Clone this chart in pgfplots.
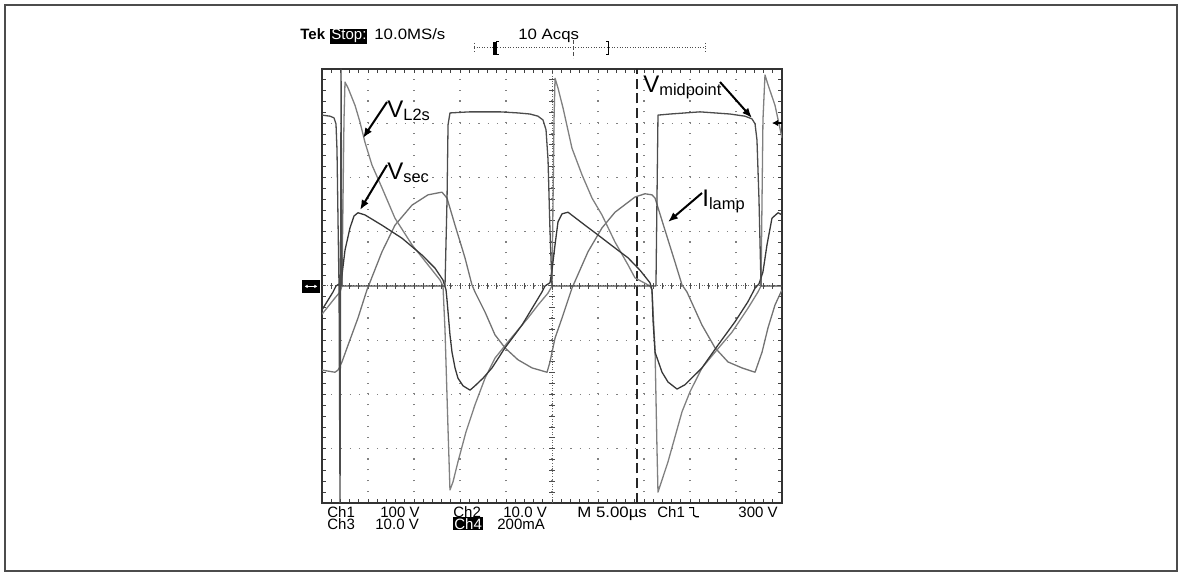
\documentclass[border=0pt]{standalone}
\usepackage{fontspec}
\setmainfont{Liberation Sans}
\newfontfamily\widefam[FakeStretch=1.12]{Liberation Sans}
\usepackage{pgfplots}
\pgfplotsset{compat=1.18}
\usetikzlibrary{arrows.meta}

\newcommand\scopefont{\fontsize{7.5}{9}\selectfont}
\newcommand\scopewide{\widefam\fontsize{7.5}{9}\selectfont}
\newcommand\lbl[2]{\fontsize{12}{14}\selectfont #1\raisebox{-1.5pt}{\fontsize{8.2}{10}\selectfont #2}}

\begin{document}
\begin{tikzpicture}
\useasboundingbox (0,0) rectangle (591pt,-288pt);
\draw[black!70, line width=0.75pt] (2.5pt,-2.5pt) rectangle (588.5pt,-285.5pt);

\begin{axis}[
  at={(161pt,-34.5pt)}, anchor=north west,
  scale only axis, width=230pt, height=217pt,
  xmin=0, xmax=50, ymin=-4, ymax=4,
  xtick={0,5,...,50}, ytick={-4,-3,...,4},
  minor x tick num=4, minor y tick num=4,
  xticklabels={}, yticklabels={},
  tick align=inside, major tick length=2.2pt, minor tick length=2pt,
  every tick/.style={black!75, line width=0.5pt},
  grid=major,
  x grid style={black!50, line width=0.55pt, dash pattern=on 0.55pt off 4.875pt},
  y grid style={black!50, line width=0.55pt, dash pattern=on 0.55pt off 4.05pt},
  axis line style={black!80, line width=0.8pt},
  every axis plot/.append style={line width=0.65pt, line join=round},
]
% centre axes with division ticks
\draw[black!60, line width=0.5pt, dash pattern=on 0.5pt off 0.8pt] (axis cs:25,-4) -- (axis cs:25,4);
\draw[black!60, line width=0.5pt, dash pattern=on 0.5pt off 0.8pt] (axis cs:0,0) -- (axis cs:50,0);
\pgfplotsinvokeforeach{1,...,49}{\draw[black!70, line width=0.5pt] (axis cs:#1,-0.05) -- (axis cs:#1,0.05);}
\pgfplotsinvokeforeach{-3.8,-3.6,...,3.8}{\draw[black!70, line width=0.5pt] (axis cs:24.7,#1) -- (axis cs:25.3,#1);}

% cursor
\draw[black!85, line width=0.55pt, dash pattern=on 5pt off 2.4pt] (axis cs:34.24,-4) -- (axis cs:34.24,4);

% Ch4: I_lamp
\addplot[color=black!55] coordinates {
  (0,-1.55) (1.41,-1.59) (1.74,-1.55) (2.17,-1.40) (2.83,-1.09) (3.91,-0.59)
  (4.89,-0.07) (6.52,0.63) (7.93,1.12) (9.78,1.49) (11.52,1.68) (13.04,1.73)
  (13.59,1.62) (14.46,1.12) (15.54,0.52) (16.30,0.02) (16.63,-0.11) (17.72,-0.48)
  (18.80,-0.90) (19.89,-1.14) (21.30,-1.36) (22.83,-1.51) (24.46,-1.59) (24.78,-1.40)
  (25.33,-0.96) (26.09,-0.59) (27.17,-0.04) (28.91,0.63) (30.43,1.07) (31.85,1.36)
  (34.02,1.64) (35.11,1.70) (35.87,1.68) (36.20,1.62) (37.28,1.03) (38.37,0.44)
  (39.13,0.02) (39.67,-0.11) (41.30,-0.72) (42.72,-1.14) (44.13,-1.40) (45.65,-1.51)
  (47.07,-1.59) (47.83,-1.22) (48.48,-0.77) (49.24,-0.35) (50,-0.07)
};

% V_L2s
\addplot[color=black!50] coordinates {
  (0,-0.52) (1.41,-0.22) (1.96,-0.11) (2.17,0) (2.39,3.06) (2.50,3.76) (2.83,3.65)
  (3.59,3.33) (4.13,3.02) (4.67,2.65) (5.43,2.23) (6.52,1.81) (7.93,1.25) (9.78,0.76)
  (11.52,0.39) (12.83,0.11) (13.15,0) (13.37,-0.81) (13.70,-2.65) (13.91,-3.76)
  (14.24,-3.61) (14.78,-3.24) (15.65,-2.69) (16.63,-2.19) (17.72,-1.70) (18.80,-1.33)
  (20.22,-1.03) (21.30,-0.81) (22.39,-0.59) (23.48,-0.35) (24.57,-0.13) (25.0,0)
  (25.22,3.06) (25.33,3.83) (25.65,3.65) (26.20,3.28) (27.17,2.54) (28.26,2.05)
  (29.35,1.62) (30.43,1.31) (31.85,0.81) (33.26,0.39) (34.02,0.15) (35.65,0)
  (35.87,-0.07) (36.20,-1.18) (36.41,-2.99) (36.52,-3.80) (37.61,-3.24) (39.13,-2.32)
  (40.0,-1.95) (41.30,-1.51) (42.72,-1.22) (44.57,-0.85) (46.30,-0.41) (47.39,-0.11)
  (47.72,0) (47.93,3.06) (48.15,3.89) (48.48,3.71) (49.24,3.33) (50,2.73)
};

% V_sec
\addplot[color=black!78] coordinates {
  (0,-0.44) (1.20,-0.11) (1.52,0) (2.07,0.06) (2.50,0.66) (3.04,1.07) (3.48,1.29)
  (3.91,1.35) (4.67,1.31) (6.52,1.12) (8.70,0.88) (10.87,0.57) (12.28,0.33)
  (13.15,0.11) (13.48,-0.07) (13.59,-0.26) (13.91,-0.90) (14.13,-1.22) (14.46,-1.51)
  (14.78,-1.70) (15.33,-1.84) (16.09,-1.92) (16.63,-1.84) (17.50,-1.70) (18.48,-1.51)
  (19.89,-1.14) (21.74,-0.72) (23.91,-0.11) (24.24,0) (24.78,0.06) (25.0,0.29)
  (25.33,0.76) (25.65,1.18) (26.09,1.33) (26.74,1.36) (28.59,1.12) (30.0,0.94)
  (31.85,0.70) (33.26,0.52) (34.57,0.29) (35.65,0.06) (35.87,-0.07) (35.98,-0.63)
  (36.20,-1.22) (36.96,-1.59) (37.61,-1.77) (38.59,-1.90) (39.46,-1.82) (41.30,-1.51)
  (43.04,-1.09) (44.89,-0.66) (46.30,-0.29) (47.07,-0.04) (47.50,0.04) (47.93,0.26)
  (48.37,0.76) (48.91,1.25) (49.57,1.35) (50,1.31)
};

% Ch1: V_midpoint
\addplot[color=black!70] coordinates {
  (0,3.15) (0.87,3.13) (1.30,3.10) (1.52,2.99) (1.63,2.51) (1.74,1.22) (1.85,0)
  (1.96,-4) (2.07,4) (2.17,0) (13.37,0) (13.59,1.59) (13.70,2.97) (13.91,3.19)
  (16.09,3.21) (19.35,3.21) (21.30,3.19) (22.61,3.17) (23.48,3.13) (24.02,3.06)
  (24.35,2.88) (24.57,2.32) (24.78,1.03) (25.0,0) (36.30,0) (36.41,1.59) (36.52,3.15)
  (37.83,3.17) (41.09,3.21) (44.35,3.17) (45.98,3.13) (46.74,3.08) (47.07,2.99)
  (47.28,2.69) (47.50,1.59) (47.72,0) (50,0)
};
\end{axis}

% ground marker and trigger level
\fill[black] (151pt,-139.8pt) rectangle (160pt,-146.5pt);
\draw[white, line width=0.5pt, {Latex[length=1.5pt,width=1.8pt]}-{Latex[length=1.5pt,width=1.8pt]}] (152.3pt,-143.2pt) -- (158.7pt,-143.2pt);
\draw[black, line width=0.9pt, -{Latex[length=3pt,width=3.2pt]}] (391pt,-61.5pt) -- (386pt,-61.5pt);

% annotations
\node[anchor=base west, inner sep=0] at (193.5pt,-59pt) {\lbl{V}{L2s}};
\draw[black, line width=1pt, -{Latex[length=5pt,width=4pt]}] (193.5pt,-51pt) -- (181.5pt,-69pt);
\node[anchor=base west, inner sep=0] at (193.5pt,-90pt) {\lbl{V}{sec}};
\draw[black, line width=1pt, -{Latex[length=5pt,width=4pt]}] (193.5pt,-82.5pt) -- (180pt,-105pt);
\node[anchor=base west, inner sep=0] at (321.5pt,-46.5pt) {\lbl{V}{midpoint}};
\draw[black, line width=1pt, -{Latex[length=5pt,width=4pt]}] (360pt,-41pt) -- (376pt,-59pt);
\node[anchor=base west, inner sep=0] at (351pt,-103.5pt) {\lbl{I}{lamp}};
\draw[black, line width=1pt, -{Latex[length=5pt,width=4pt]}] (351pt,-96.5pt) -- (334pt,-111pt);

% top status line
\node[anchor=base west, inner sep=0, font=\scopefont\bfseries] at (150pt,-20pt) {Tek};
\node[anchor=base west, inner sep=0.5pt, fill=black, text=white, font=\scopefont] at (165pt,-20pt) {Stop:};
\node[anchor=base west, inner sep=0, font=\scopewide] at (187pt,-20pt) {10.0MS/s};
\node[anchor=base west, inner sep=0, font=\scopewide] at (259pt,-20pt) {10 Acqs};
\draw[black!70, line width=0.5pt, dash pattern=on 0.5pt off 0.8pt] (237pt,-23.75pt) -- (352.5pt,-23.75pt);
\draw[black!70, line width=0.5pt, dash pattern=on 0.5pt off 0.8pt] (237pt,-21.5pt) -- (237pt,-26pt);
\draw[black!70, line width=0.5pt, dash pattern=on 0.5pt off 0.8pt] (352.5pt,-21.5pt) -- (352.5pt,-26pt);
\draw[black, line width=1.2pt] (247.3pt,-21pt) -- (247.3pt,-27.5pt);
\draw[black, line width=0.5pt] (249.5pt,-21pt) -- (248.3pt,-21pt) -- (248.3pt,-27.5pt) -- (249.5pt,-27.5pt);
\draw[black, line width=0.5pt] (303pt,-21pt) -- (304.3pt,-21pt) -- (304.3pt,-27.5pt) -- (303pt,-27.5pt);
\draw[black!70, line width=0.5pt, dash pattern=on 2pt off 1pt] (286.5pt,-20pt) -- (286.5pt,-29pt);

% bottom readout
\node[anchor=base west, inner sep=0, font=\scopefont] at (163.5pt,-258.5pt) {Ch1};
\node[anchor=base west, inner sep=0, font=\scopefont] at (190pt,-258.5pt) {100 V};
\node[anchor=base west, inner sep=0, font=\scopefont] at (226.5pt,-258.5pt) {Ch2};
\node[anchor=base west, inner sep=0, font=\scopefont] at (251.5pt,-258.5pt) {10.0 V};
\node[anchor=base west, inner sep=0, font=\scopewide] at (288.5pt,-258.5pt) {M 5.00µs};
\node[anchor=base west, inner sep=0, font=\scopefont] at (328.5pt,-258.5pt) {Ch1};
\draw[black, line width=0.6pt] (344.5pt,-253.8pt) -- (346.8pt,-253.8pt) -- (346.8pt,-257.6pt) -- (348pt,-258.4pt) -- (349.4pt,-258.4pt);
\node[anchor=base west, inner sep=0, font=\scopefont] at (369pt,-258.5pt) {300 V};
\node[anchor=base west, inner sep=0, font=\scopefont] at (163.5pt,-264.5pt) {Ch3};
\node[anchor=base west, inner sep=0, font=\scopefont] at (187.5pt,-264.5pt) {10.0 V};
\node[anchor=base west, inner sep=0.5pt, fill=black, text=white, font=\scopefont] at (226.5pt,-264.5pt) {Ch4};
\node[anchor=base west, inner sep=0, font=\scopefont] at (248.5pt,-264.5pt) {200mA};
\end{tikzpicture}
\end{document}
